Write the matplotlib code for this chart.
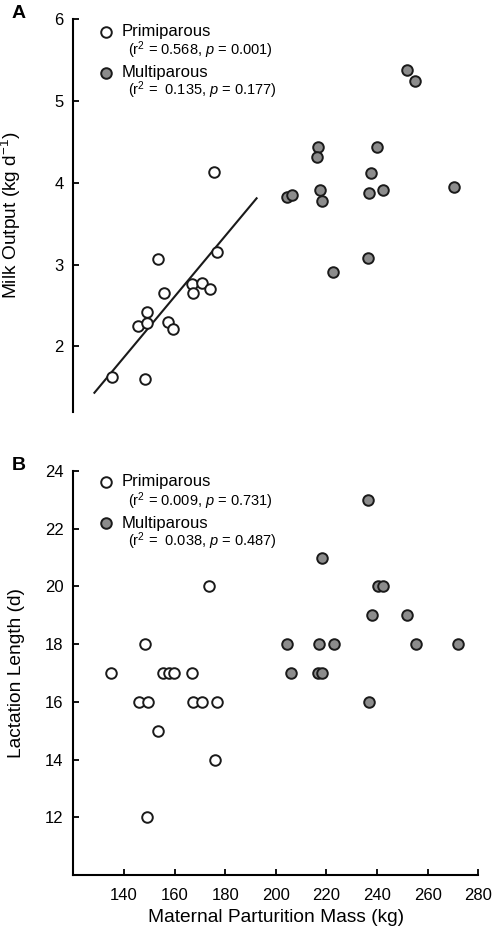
"""Milk output and lactation length vs maternal parturition mass."""
import matplotlib
matplotlib.use("Agg")
import matplotlib.pyplot as plt

plt.rcParams["font.family"] = ["Liberation Sans", "DejaVu Sans"]
plt.rcParams["mathtext.fontset"] = "custom"
plt.rcParams["mathtext.rm"] = "Liberation Sans"
plt.rcParams["mathtext.it"] = "Liberation Sans:italic"
plt.rcParams["mathtext.default"] = "regular"

# panel A - milk output
prim_mass_a = [135.1, 148.3, 145.4, 149.0, 149.2, 153.3, 155.9, 157.5, 159.5,
               166.7, 167.4, 170.9, 174.0, 176.6, 175.7]
prim_milk = [1.63, 1.60, 2.25, 2.42, 2.29, 3.07, 2.65, 2.30, 2.21,
             2.76, 2.65, 2.77, 2.70, 3.15, 4.13]
multi_mass_a = [251.9, 255.0, 216.5, 216.1, 240.1, 237.6, 204.3, 206.3, 217.4,
                218.1, 236.8, 242.4, 270.5, 236.5, 222.7]
multi_milk = [5.38, 5.24, 4.44, 4.32, 4.44, 4.12, 3.83, 3.85, 3.91,
              3.78, 3.88, 3.91, 3.95, 3.08, 2.91]
fit_x = [128.3, 192.4]
fit_y = [1.435, 3.81]

# panel B - lactation length
prim_mass_b = [134.7, 148.3, 145.9, 149.6, 153.3, 155.5, 157.8, 159.9, 166.9,
               167.4, 170.9, 176.6, 173.6, 175.9, 149.2]
prim_len = [17, 18, 16, 16, 15, 17, 17, 17, 17, 16, 16, 16, 20, 14, 12]
multi_mass_b = [236.3, 218.3, 240.2, 242.4, 237.9, 251.9, 204.3, 217.2, 223.0,
                255.2, 271.8, 206.0, 216.5, 218.1, 236.8]
multi_len = [23, 21, 20, 20, 19, 19, 18, 18, 18, 18, 18, 17, 17, 17, 16]

stats_a = ["(r$^2$ = 0.568, $\\it{p}$ = 0.001)", "(r$^2$ =  0.135, $\\it{p}$ = 0.177)"]
stats_b = ["(r$^2$ = 0.009, $\\it{p}$ = 0.731)", "(r$^2$ =  0.038, $\\it{p}$ = 0.487)"]

fig = plt.figure(figsize=(4.98, 9.4), dpi=100)
ax_a = fig.add_axes([0.1474, 0.5617, 0.8130, 0.4181])
ax_b = fig.add_axes([0.1474, 0.0691, 0.8130, 0.4299])

mk = dict(s=58, edgecolors="#1a1a1a", linewidths=1.4, zorder=3, clip_on=False)


def legend(ax, stats, y0, y1, y2, y3):
    tr = ax.transAxes
    ax.scatter([0.080], [y0], transform=tr, facecolors="white", **mk)
    ax.text(0.120, y0, "Primiparous", transform=tr, fontsize=12, va="center")
    ax.text(0.136, y1, stats[0], transform=tr, fontsize=10.5, va="center")
    ax.scatter([0.080], [y2], transform=tr, facecolors="#8c8c8c", **mk)
    ax.text(0.120, y2, "Multiparous", transform=tr, fontsize=12, va="center")
    ax.text(0.136, y3, stats[1], transform=tr, fontsize=10.5, va="center")


for ax in (ax_a, ax_b):
    ax.set_xlim(120, 280)
    ax.spines["top"].set_visible(False)
    ax.spines["right"].set_visible(False)
    ax.spines["left"].set_linewidth(1.5)
    ax.spines["bottom"].set_linewidth(1.5)
    ax.tick_params(direction="in", length=4.5, width=1.3, labelsize=12, pad=7)
    ax.tick_params(axis="x", pad=9)

# panel A
ax_a.scatter(prim_mass_a, prim_milk, facecolors="white", **mk)
ax_a.scatter(multi_mass_a, multi_milk, facecolors="#8c8c8c", **mk)
ax_a.plot(fit_x, fit_y, color="#1a1a1a", lw=1.5, zorder=2)
ax_a.set_ylim(1.2, 6)
ax_a.set_yticks([2, 3, 4, 5, 6])
ax_a.spines["bottom"].set_visible(False)
ax_a.tick_params(axis="x", bottom=False, labelbottom=False)
ax_a.set_ylabel("Milk Output (kg d$^{-1}$)", fontsize=13.8)
ax_a.yaxis.set_label_coords(-0.124, 0.5)
h = 393.0
legend(ax_a, stats_a, 1 - (31.7 - 19) / h, 1 - (50 - 19) / h,
       1 - (72.7 - 19) / h, 1 - (90 - 19) / h)

# panel B
ax_b.scatter(prim_mass_b, prim_len, facecolors="white", **mk)
ax_b.scatter(multi_mass_b, multi_len, facecolors="#8c8c8c", **mk)
ax_b.set_ylim(10, 24)
ax_b.set_yticks([12, 14, 16, 18, 20, 22, 24])
ax_b.set_xticks([140, 160, 180, 200, 220, 240, 260, 280])
ax_b.set_ylabel("Lactation Length (d)", fontsize=13.8)
ax_b.yaxis.set_label_coords(-0.120, 0.5)
ax_b.set_xlabel("Maternal Parturition Mass (kg)", fontsize=13.8, labelpad=5)
h = 404.0
legend(ax_b, stats_b, 1 - (481.7 - 471) / h, 1 - (501.7 - 471) / h,
       1 - (523.3 - 471) / h, 1 - (541.7 - 471) / h)

fig.text(12 / 498, 1 - 14 / 940, "A", fontsize=14, fontweight="bold", va="center")
fig.text(12 / 498, 1 - 466 / 940, "B", fontsize=14, fontweight="bold", va="center")

fig.savefig("out.png", dpi=100)
plt.close(fig)
